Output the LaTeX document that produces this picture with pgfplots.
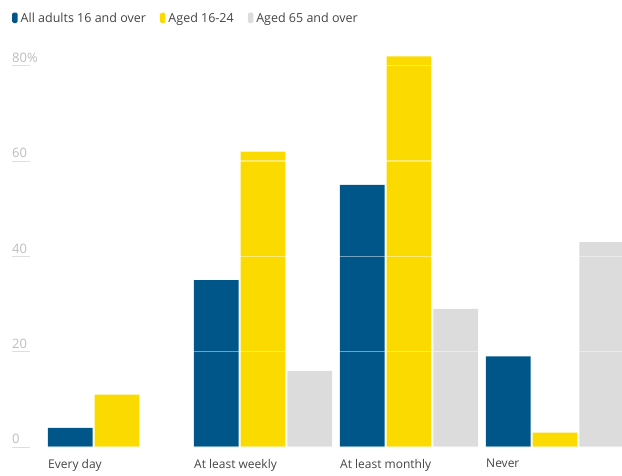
\documentclass[border=0pt]{standalone}
\usepackage{pgfplots}
\pgfplotsset{compat=1.18}
\usepackage{fontspec}
\setmainfont{Open Sans}
\definecolor{gblue}{HTML}{005689}
\definecolor{gyellow}{HTML}{FBDA00}
\definecolor{ggray}{HTML}{DCDCDC}
\definecolor{gtick}{HTML}{BDBDBD}
\definecolor{gtext}{HTML}{444444}
\pgfplotsset{
  gbar/.style={ybar, bar width=44.7, draw=none,
    legend image code/.code={\fill[##1, rounded corners=1.5pt] (0pt,-5pt) rectangle (5.5pt,5.5pt);}},
}

\begin{document}
\begin{tikzpicture}[x=1pt,y=1pt]
\useasboundingbox (0,0) rectangle (622,475);
\begin{axis}[
  at={(12pt,28pt)}, anchor=south west,
  scale only axis, width=610pt, height=405pt,
  xmin=12, xmax=622, ymin=0, ymax=85,
  axis line style={draw=none},
  axis on top,
  ymajorgrids,
  grid style={white, opacity=0.45, line width=1.3pt},
  ytick={0,20,40,60,80},
  yticklabels={0,20,40,60,80\%},
  ytick pos=left,
  yticklabel style={anchor=south west, inner sep=0pt, xshift=0pt, yshift=3pt,
    text=gtick, font=\fontsize{13}{13}\selectfont},
  ytick align=inside,
  major tick length=18pt,
  ytick style={draw=gtick!50, line width=0.8pt},
  xtick={48,194,340,486},
  xticklabels={Every day, At least weekly, At least monthly, Never},
  xtick style={draw=none},
  xticklabel style={anchor=north west, inner sep=0pt, yshift=-12pt,
    text=gtext, font=\fontsize{12}{12}\selectfont},
  legend columns=-1,
  legend style={at={(0,1)}, anchor=west, xshift=-3pt, yshift=24pt,
    draw=none, fill=none, text=gtext, font=\fontsize{12.5}{12.5}\selectfont,
    /tikz/every odd column/.append style={column sep=1pt},
    /tikz/every even column/.append style={column sep=12pt}},
]
\addplot[gbar, bar shift=-46.7, fill=gblue]
  coordinates {(117,4) (263,35) (409,55) (555,19)};
\addlegendentry{All adults 16 and over}
\addplot[gbar, bar shift=0, fill=gyellow]
  coordinates {(117,11) (263,62) (409,82) (555,3)};
\addlegendentry{Aged 16-24}
\addplot[gbar, bar shift=46.7, fill=ggray]
  coordinates {(263,16) (409,29) (555,43)};
\addlegendentry{Aged 65 and over}
\end{axis}
\end{tikzpicture}
\end{document}
